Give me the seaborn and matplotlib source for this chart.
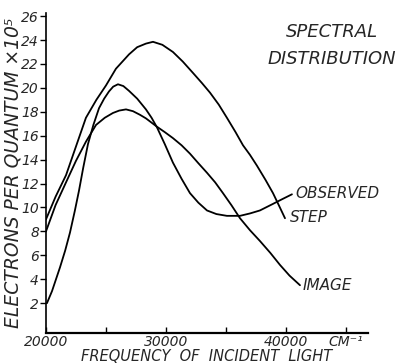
import numpy as np
import pandas as pd
import matplotlib
matplotlib.use("Agg")
import matplotlib.pyplot as plt
import seaborn as sns

# values (frequency in cm^-1, electrons per quantum x10^5)
step_freq = [20000, 20800, 21670, 22500, 23330, 24200, 25000, 25830, 26920, 27600,
             28330, 28920, 29700, 30580, 31400, 32250, 33000, 33670, 34400, 35080,
             35800, 36420, 37000, 37580, 38300, 38920, 39400, 39920]
step_val = [9.0, 10.9, 12.7, 15.1, 17.5, 19.0, 20.2, 21.6, 22.8, 23.4,
            23.7, 23.85, 23.6, 23.0, 22.2, 21.25, 20.4, 19.6, 18.6, 17.5,
            16.3, 15.2, 14.4, 13.5, 12.3, 11.2, 10.2, 9.1]

observed_freq = [20080, 20500, 21170, 21600, 22000, 22400, 22750, 23100, 23500, 23950,
                 24420, 24850, 25250, 25600, 26000, 26450, 26920, 27600, 28330, 28800,
                 29250, 29900, 30580, 31300, 32000, 32700, 33420, 34200, 35080, 36170,
                 37000, 37830, 38920, 39700, 40500]
observed_val = [2.0, 3.0, 5.0, 6.4, 7.9, 9.7, 11.4, 13.3, 15.3, 16.9,
                18.3, 19.1, 19.7, 20.1, 20.3, 20.15, 19.75, 19.1, 18.2, 17.5,
                16.7, 15.3, 13.75, 12.4, 11.2, 10.4, 9.75, 9.45, 9.3, 9.3,
                9.5, 9.75, 10.3, 10.7, 11.1]

image_freq = [20000, 20800, 21670, 22500, 23330, 24170, 24900, 25580, 26100, 26670,
              27250, 27830, 28330, 29250, 29900, 30580, 31300, 32000, 32700, 33420,
              34100, 34750, 35450, 36170, 37000, 37830, 38700, 39500, 40300, 41170]
image_val = [8.0, 10.2, 12.1, 13.9, 15.5, 16.9, 17.5, 17.9, 18.1, 18.2,
             18.05, 17.75, 17.45, 16.75, 16.3, 15.8, 15.2, 14.5, 13.7, 12.9,
             12.1, 11.2, 10.2, 9.1, 8.1, 7.2, 6.2, 5.2, 4.3, 3.5]

x_ticks = [20000, 25000, 30000, 35000, 40000, 45000]
x_tick_labels = ["20000", "", "30000", "", "40000", "CM\u207b\u00b9"]
y_ticks = list(range(2, 27, 2))

sns.set_style("ticks")
plt.rcParams["font.family"] = ["DejaVu Sans"]
plt.rcParams["font.style"] = "italic"

fig = plt.figure(figsize=(4.08, 3.64), dpi=100)
ax = fig.add_axes([0.1127, 0.085, 0.789, 0.879])

for fx, fy in [(step_freq, step_val), (observed_freq, observed_val), (image_freq, image_val)]:
    sns.lineplot(x=fx, y=fy, ax=ax, color="black", linewidth=1.3, sort=False)

ax.set_xlim(20000, 46830)
ax.set_ylim(-0.5, 26.25)
ax.set_xticks(x_ticks)
ax.set_xticklabels(x_tick_labels, fontsize=10, style="italic")
ax.set_yticks(y_ticks)
ax.set_yticklabels([str(v) for v in y_ticks], fontsize=10, style="italic")
ax.tick_params(axis="x", direction="in", length=4, width=1, pad=1.5, color="black")
ax.tick_params(axis="y", direction="out", length=4, width=1, pad=1, color="black")

sns.despine(ax=ax)
ax.spines["left"].set_linewidth(1.2)
ax.spines["bottom"].set_linewidth(1.6)
ax.spines["left"].set_color("black")
ax.spines["bottom"].set_color("black")

ax.set_xlabel("FREQUENCY  OF  INCIDENT  LIGHT", fontsize=10.5, style="italic", labelpad=0)
ax.set_ylabel("ELECTRONS PER QUANTUM \u00d710\u2075", fontsize=13.5, style="italic", labelpad=-1)

ax.text(0.888, 0.94, "SPECTRAL", transform=ax.transAxes, fontsize=13,
        style="italic", ha="center", va="center")
ax.text(0.888, 0.855, "DISTRIBUTION", transform=ax.transAxes, fontsize=13,
        style="italic", ha="center", va="center")

ax.text(40800, 11.2, "OBSERVED", fontsize=11, style="italic", ha="left", va="center")
ax.text(40300, 9.2, "STEP", fontsize=11, style="italic", ha="left", va="center")
ax.text(41400, 3.5, "IMAGE", fontsize=11, style="italic", ha="left", va="center")

fig.savefig("out.png", dpi=100, facecolor="white")
